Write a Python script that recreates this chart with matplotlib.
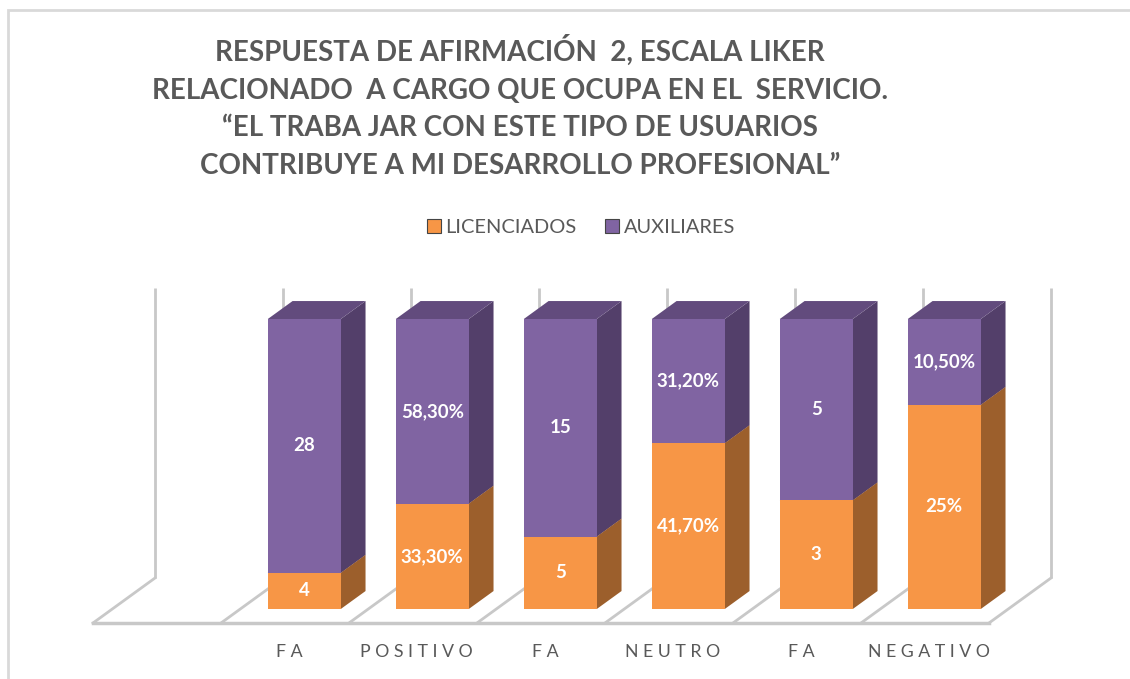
import matplotlib.pyplot as plt
from matplotlib.patches import Polygon, Rectangle, Patch

plt.rcParams['font.family'] = ['Lato', 'DejaVu Sans']

# data (first slot of the category axis is empty in the original)
categorias = ['', 'FA', 'POSITIVO', 'FA', 'NEUTRO', 'FA', 'NEGATIVO']
licenciados = [0, 4, 33.3, 5, 41.7, 3, 25]
auxiliares = [0, 28, 58.3, 15, 31.2, 5, 10.5]
etiq_lic = ['', '4', '33,30%', '5', '41,70%', '3', '25%']
etiq_aux = ['', '28', '58,30%', '15', '31,20%', '5', '10,50%']

titulo = ('RESPUESTA DE AFIRMACIÓN  2, ESCALA LIKER\n'
          'RELACIONADO  A CARGO QUE OCUPA EN EL  SERVICIO.\n'
          '“EL TRABA JAR CON ESTE TIPO DE USUARIOS\n'
          'CONTRIBUYE A MI DESARROLLO PROFESIONAL”')

# colours
lic_front, lic_side, lic_top = '#F79646', '#9C5F2C', '#B8712F'
aux_front, aux_side, aux_top = '#8064A2', '#533F6A', '#624B7D'
grid_col = '#C8C8C8'
text_col = '#595959'

# pseudo 3d: depth d in [0,1] shifts the point by (DX, DY)
DX, DY = 0.484, 0.155
D0, D1 = 0.311, 0.711      # bar depth range
BW = 0.57                  # bar width as fraction of slot


def proj(x, y, d):
    return (x + d * DX, y + d * DY)


fig = plt.figure(figsize=(11.3, 6.79), dpi=100)
ax = fig.add_axes([0, 0, 1, 1])
ax.set_xlim(-0.7266, 8.1016)
ax.set_ylim(-0.1931, 2.1483)
ax.axis('off')

# chart border
fig.patches.append(Rectangle((8 / 1130, -0.1), 1.2, 1 - 10 / 679 + 0.1,
                             transform=fig.transFigure, fill=False,
                             edgecolor='#D9D9D9', lw=2))

n = len(categorias)
# back wall vertical gridlines and floor lines
for k in range(n + 1):
    x0, y0 = proj(k, 0, 1)
    x1, y1 = proj(k, 1, 1)
    ax.plot([x0, x1], [y0, y1], color=grid_col, lw=2, solid_capstyle='butt', zorder=1)
    xf, yf = proj(k, 0, 0)
    ax.plot([xf, x0], [yf, y0], color=grid_col, lw=2, zorder=1)
ax.plot([0, n], [0, 0], color=grid_col, lw=2.5, zorder=1)

# bars
for i in range(n):
    tot = licenciados[i] + auxiliares[i]
    if tot == 0:
        continue
    xl = i + (1 - BW) / 2
    xr = xl + BW
    segs = [(0, licenciados[i] / tot, lic_front, lic_side, lic_top, etiq_lic[i]),
            (licenciados[i] / tot, 1.0, aux_front, aux_side, aux_top, etiq_aux[i])]
    for yb, yt, cf, cs, ct, lab in segs:
        side = [proj(xr, yb, D0), proj(xr, yb, D1), proj(xr, yt, D1), proj(xr, yt, D0)]
        top = [proj(xl, yt, D0), proj(xr, yt, D0), proj(xr, yt, D1), proj(xl, yt, D1)]
        front = [proj(xl, yb, D0), proj(xr, yb, D0), proj(xr, yt, D0), proj(xl, yt, D0)]
        ax.add_patch(Polygon(side, closed=True, facecolor=cs, edgecolor='none', zorder=3))
        ax.add_patch(Polygon(top, closed=True, facecolor=ct, edgecolor='none', zorder=3))
        ax.add_patch(Polygon(front, closed=True, facecolor=cf, edgecolor='none', zorder=4))
        cx, cy = proj((xl + xr) / 2, (yb + yt) / 2, D0)
        ax.text(cx, cy, lab, color='white', fontsize=13.5, fontweight='bold',
                ha='center', va='center', zorder=5)

# category labels
for i, c in enumerate(categorias):
    if c:
        ax.text(i + 0.53, -0.1, ' '.join(c), color=text_col, fontsize=12.8,
                ha='center', va='center')

fig.text(0.46, 1 - 107 / 679, titulo, ha='center', va='center', fontsize=20,
         fontweight='bold', color=text_col, linespacing=1.56)

handles = [Patch(facecolor=lic_front, edgecolor='#444444', lw=0.8, label='LICENCIADOS'),
           Patch(facecolor=aux_front, edgecolor='#444444', lw=0.8, label='AUXILIARES')]
fig.legend(handles=handles, loc='center', bbox_to_anchor=(0.514, 1 - 228 / 679),
           ncol=2, frameon=False, fontsize=14.4, handlelength=0.7, handleheight=0.7,
           handletextpad=0.25, columnspacing=1.4, labelcolor=text_col)

fig.savefig('out.png', dpi=100)
